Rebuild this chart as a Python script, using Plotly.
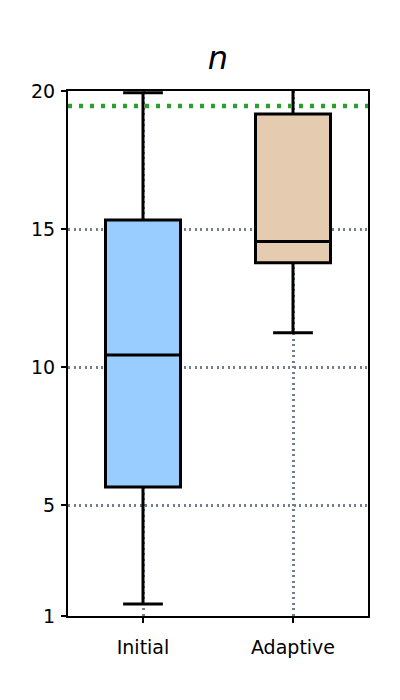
import plotly.graph_objects as go

categories = ["Initial", "Adaptive"]
lower_whisker = [1.43, 11.25]
q1_values = [5.67, 13.78]
medians = [10.45, 14.55]
q3_values = [15.33, 19.17]
upper_whisker = [19.94, 20.6]
box_colors = ["#99ccff", "#e5ccb0"]
reference_value = 19.46
y_ticks = [1, 5, 10, 15, 20]

fig = go.Figure()
for i, cat in enumerate(categories):
    fig.add_trace(go.Box(
        x=[cat],
        q1=[q1_values[i]], median=[medians[i]], q3=[q3_values[i]],
        lowerfence=[lower_whisker[i]], upperfence=[upper_whisker[i]],
        fillcolor=box_colors[i],
        line=dict(color="black", width=3),
        width=0.5,
        whiskerwidth=0.53,
        boxpoints=False,
        showlegend=False,
    ))

fig.add_shape(type="line", xref="paper", x0=0, x1=1, yref="y",
              y0=reference_value, y1=reference_value,
              line=dict(color="#2ca02c", width=4.5, dash="4px,7px"), layer="above")

fig.update_layout(
    width=400, height=700,
    margin=dict(l=68, r=32, t=91, b=84),
    paper_bgcolor="white", plot_bgcolor="white",
    font=dict(family="DejaVu Sans", size=19, color="black"),
    title=dict(text="<i>n</i>", x=0.545, xanchor="center", y=0.917, yanchor="middle",
               font=dict(size=32, family="DejaVu Sans", color="black")),
)
fig.update_xaxes(
    type="category", categoryorder="array", categoryarray=categories,
    range=[-0.5, 1.5],
    showline=True, linecolor="black", linewidth=2, mirror=True,
    ticks="outside", ticklen=5, tickwidth=2, tickcolor="black",
    showgrid=True, gridcolor="#708090", gridwidth=2.5, griddash="2px,3.5px",
    ticklabelstandoff=8,
    tickfont=dict(size=19, color="black"),
)
fig.update_yaxes(
    range=[1, 20], tickmode="array", tickvals=y_ticks,
    showline=True, linecolor="black", linewidth=2, mirror=True,
    ticks="outside", ticklen=5, tickwidth=2, tickcolor="black",
    showgrid=True, gridcolor="#708090", gridwidth=2.5, griddash="2px,3.5px",
    zeroline=False, ticklabelstandoff=2,
    tickfont=dict(size=19, color="black"),
)

fig.write_html("out.html")
